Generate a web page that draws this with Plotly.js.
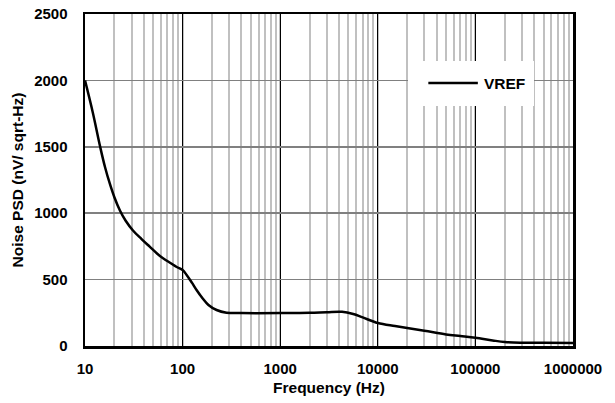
<!DOCTYPE html>
<html>
<head>
<meta charset="utf-8">
<script src="https://cdn.plot.ly/plotly-3.0.1.min.js"></script>
<style>html,body{margin:0;padding:0;background:#fff;}#chart{width:615px;height:403px;}</style>
</head>
<body>
<div id="chart"></div>
<script>
// Data
const freqHz = [10, 12, 14.3, 16, 18, 20, 22.8, 26, 31, 38, 46, 55, 63, 75, 87, 100, 110, 125, 139, 160, 184, 223, 282, 400, 1000, 2000, 3000, 4300, 5600, 7000, 10000, 15000, 20000, 30000, 50000, 70000, 100000, 150000, 200000, 300000, 500000, 1000000];
const vrefNoise = [2000, 1760, 1500, 1350, 1220, 1120, 1020, 945, 870, 805, 748, 695, 661, 625, 595, 572, 535, 475, 422, 360, 309, 271, 251, 248, 248, 250, 255, 258, 241, 215, 173, 150, 135, 115, 87, 75, 62, 42, 30, 25, 24, 23];
const seriesName = 'VREF';
const xTickVals = [10, 100, 1000, 10000, 100000, 1000000];
const xTickText = ['10', '100', '1000', '10000', '100000', '1000000'];
const yTickVals = [0, 500, 1000, 1500, 2000, 2500];

const fam = 'Liberation Sans, Arial, sans-serif';
const boldFont = (s) => ({family: fam, size: s, color: '#000', weight: 'bold'});

const trace = {
  x: freqHz, y: vrefNoise, name: seriesName, type: 'scatter', mode: 'lines',
  line: {color: '#000', width: 2.5, shape: 'spline', smoothing: 1},
  showlegend: false
};

// legend drawn as a white box, a sample line and a label (positions in paper units)
const lgBoxX = 0.791, lgYMid = 0.792;

const layout = {
  width: 615, height: 403,
  margin: {l: 85, r: 42, t: 14, b: 57},
  paper_bgcolor: '#fff', plot_bgcolor: '#fff',
  font: {family: fam, size: 13, color: '#000'},
  showlegend: false,
  annotations: [
    {xref: 'paper', yref: 'paper', x: lgBoxX, y: lgYMid, xanchor: 'center', yanchor: 'middle',
     text: ' ', showarrow: false, width: 126, height: 45, bgcolor: '#fff', borderpad: 0, borderwidth: 0},
    {xref: 'paper', yref: 'paper', x: 0.805, y: lgYMid, text: '', showarrow: true,
     axref: 'pixel', ayref: 'pixel', ax: -51, ay: 0, arrowhead: 0, arrowwidth: 2.5, arrowcolor: '#000',
     standoff: 0, startstandoff: 0},
    {xref: 'paper', yref: 'paper', x: 0.814, y: lgYMid, xanchor: 'left', yanchor: 'middle',
     text: seriesName, showarrow: false, font: boldFont(15.5)}
  ],
  xaxis: {
    type: 'log', range: [1, 6],
    tickmode: 'array', tickvals: xTickVals, ticktext: xTickText,
    ticks: '', ticklabelstandoff: 7,
    tickfont: boldFont(15),
    showgrid: true, gridcolor: '#000', gridwidth: 1,
    minor: {dtick: 'D1', showgrid: true, gridcolor: '#c0c0c0', gridwidth: 2, ticks: ''},
    showline: true, linecolor: '#000', linewidth: 2.5, mirror: true,
    zeroline: false,
    title: {text: 'Frequency (Hz)', standoff: 7, font: boldFont(15.5)}
  },
  yaxis: {
    range: [0, 2500],
    tickmode: 'array', tickvals: yTickVals,
    ticks: '', ticklabelstandoff: 12,
    tickfont: boldFont(15),
    showgrid: true, gridcolor: '#808080', gridwidth: 1.5,
    showline: true, linecolor: '#000', linewidth: 2.5, mirror: true,
    zeroline: false,
    title: {text: 'Noise PSD (nV/ sqrt-Hz)', standoff: 7, font: boldFont(15.5)}
  }
};

Plotly.newPlot('chart', [trace], layout, {displayModeBar: false, staticPlot: true});
</script>
</body>
</html>
